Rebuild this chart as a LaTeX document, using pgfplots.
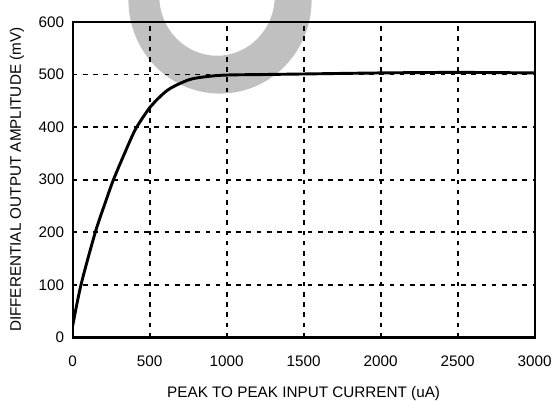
\documentclass[border=0pt]{standalone}
\usepackage{pgfplots}
\pgfplotsset{compat=1.18}
\usepackage{fontspec}
\setmainfont{Liberation Sans}
\definecolor{wm}{HTML}{C0C0C0}
\begin{document}
\begin{tikzpicture}[x=0.75pt,y=0.75pt]
% watermark (pixel units, origin at lower-left of axis box)
\begin{scope}[overlay]
\fill[wm, even odd rule] (148,339) ellipse [x radius=92, y radius=94]
      (145,343) ellipse [x radius=58, y radius=60];
\end{scope}
\begin{axis}[
  at={(0,0)}, anchor=south west,
  scale only axis, width=348pt, height=237.75pt,
  xmin=0, xmax=3000, ymin=0, ymax=600,
  xtick={0,500,...,3000}, ytick={0,100,...,600},
  major tick length=0pt,
  grid=major,
  major grid style={black, line width=1.4pt, dash pattern=on 3.5pt off 4.2pt},
  axis line style={black, line width=1.6pt},
  tick label style={font=\fontsize{11.5}{13}\selectfont},
  label style={font=\fontsize{11.5}{13}\selectfont},
  /pgf/number format/assume math mode=true,
  /pgf/number format/1000 sep={},
  xticklabel style={yshift=-10pt},
  yticklabel style={xshift=-3pt},
  xlabel={PEAK TO PEAK INPUT CURRENT (uA)},
  ylabel={DIFFERENTIAL OUTPUT AMPLITUDE (mV)},
  xlabel style={yshift=-8pt},
  ylabel style={yshift=4pt},
]
\addplot[black, line width=2.2pt, smooth, tension=0.5] coordinates {
 (0,22) (54,100) (147,200) (216,260) (265,300) (340,352) (410,397)
 (500,437) (540,450) (625,472) (755,490) (870,496) (1000,499)
 (1250,500) (1500,501) (2000,503) (2500,504) (3000,503)};
\end{axis}
\path (-73,-61) rectangle (483,339);
\end{tikzpicture}
\end{document}
